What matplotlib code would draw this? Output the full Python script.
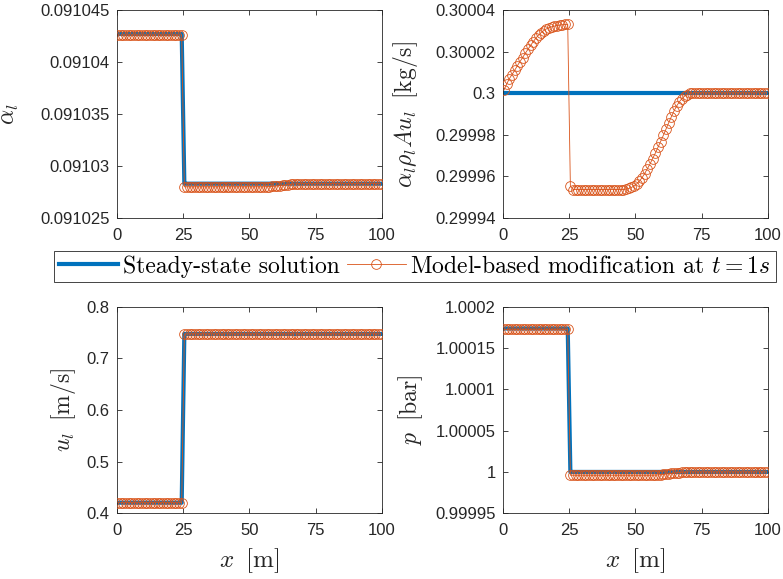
"""Steady-state solution vs model-based modification, four-panel pipe profile."""

import numpy as np
import matplotlib
matplotlib.use('Agg')
import matplotlib.pyplot as plt
from matplotlib.ticker import FuncFormatter

plt.rcParams['mathtext.fontset'] = 'cm'
plt.rcParams['axes.unicode_minus'] = False
plt.rcParams['font.family'] = ['Liberation Sans', 'DejaVu Sans']

BLUE = '#0072BD'
ORANGE = '#D95319'
AXCOL = '#262626'

# cell centres along the pipe [m]
x = np.arange(0.5, 100.0, 1.0)
n_left = 25   # cells before the jump
n_right = 75  # cells after the jump

x_ticks = [0, 25, 50, 75, 100]

# ---- liquid volume fraction alpha_l
alpha_ss_left, alpha_ss_right = 0.0910427, 0.0910283
alpha_model_left = 0.0910426
alpha_model_flat1 = 0.0910280
alpha_model_rise = [0.09102800, 0.09102801, 0.09102802, 0.09102804, 0.09102806,
                    0.09102809, 0.09102812, 0.09102815, 0.09102818, 0.09102821,
                    0.09102824, 0.09102826, 0.09102828, 0.09102829, 0.09102830]
alpha_model_flat2 = 0.0910283
alpha_ticks = [0.091025, 0.09103, 0.091035, 0.09104, 0.091045]

# ---- liquid mass flow alpha_l rho_l A u_l, deviation from 0.3 in 1e-6 kg/s
flow_ss = 0.3
flow_model_left_dev = [1.6, 4.4, 7.0, 9.0, 11.0, 13.2, 15.2, 17.2, 19.2, 21.1,
                       23.0, 24.8, 26.5, 28.0, 29.2, 30.2, 31.0, 31.6, 32.0, 32.3,
                       32.6, 32.8, 33.0, 33.1, 33.2]
flow_model_right_dev = ([-44.7] + [-46.3] * 20 +
                        [-46.1, -45.8, -45.3, -44.6, -43.6, -42.3, -40.6, -38.6, -36.3,
                         -34.0, -31.4, -28.8, -26.0, -23.2, -20.3, -17.3, -14.3, -11.4,
                         -8.6, -6.2, -4.2, -2.6, -1.4, -0.6, -0.1, 0.2, 0.3] +
                        [0.2] * 27)
flow_ticks = [0.29994, 0.29996, 0.29998, 0.3, 0.30002, 0.30004]

# ---- liquid velocity u_l [m/s]
u_ss_left, u_ss_right = 0.4205, 0.7471
u_model_left, u_model_right = 0.4205, 0.7471
u_ticks = [0.4, 0.5, 0.6, 0.7, 0.8]

# ---- pressure p [bar]
p_ss_left, p_ss_right = 1.0001735, 1.0000000
p_model_left = 1.0001725
p_model_flat1 = 0.9999960
p_model_rise = [0.9999960, 0.9999961, 0.9999962, 0.9999964, 0.9999967,
                0.9999970, 0.9999974, 0.9999978, 0.9999982, 0.9999986,
                0.9999990, 0.9999993, 0.9999996, 0.9999998, 0.9999999]
p_model_flat2 = 1.0000000
p_ticks = [0.99995, 1.0, 1.00005, 1.0001, 1.00015, 1.0002]


def two_level(left, right):
    return np.r_[np.full(n_left, left), np.full(n_right, right)]


def jump_then_rise(left, flat1, rise, flat2):
    n_flat1 = 30
    n_flat2 = n_right - n_flat1 - len(rise)
    return np.r_[np.full(n_left, left), np.full(n_flat1, flat1), rise,
                 np.full(n_flat2, flat2)]


alpha_ss = two_level(alpha_ss_left, alpha_ss_right)
alpha_model = jump_then_rise(alpha_model_left, alpha_model_flat1,
                             alpha_model_rise, alpha_model_flat2)
flow_ss_arr = np.full(len(x), flow_ss)
flow_model = flow_ss + 1e-6 * np.r_[flow_model_left_dev, flow_model_right_dev]
u_ss = two_level(u_ss_left, u_ss_right)
u_model = two_level(u_model_left, u_model_right)
p_ss = two_level(p_ss_left, p_ss_right)
p_model = jump_then_rise(p_model_left, p_model_flat1, p_model_rise, p_model_flat2)

fig = plt.figure(figsize=(7.83, 5.79), dpi=100)

# axes boxes in figure fractions
w = 0.339
boxes = {
    'tl': [0.149, 0.6235, w, 0.359],
    'tr': [0.642, 0.6235, w, 0.359],
    'bl': [0.149, 0.1135, w, 0.357],
    'br': [0.642, 0.1135, w, 0.357],
}

panels = [
    ('tl', alpha_ss, alpha_model, alpha_ticks, r'$\alpha_l$', -0.36, False),
    ('tr', flow_ss_arr, flow_model, flow_ticks,
     r'$\alpha_l \rho_l A u_l\;\;[\mathrm{kg/s}]$', -0.312, False),
    ('bl', u_ss, u_model, u_ticks, r'$u_l\;\;[\mathrm{m/s}]$', -0.146, True),
    ('br', p_ss, p_model, p_ticks, r'$p\;\;[\mathrm{bar}]$', -0.294, True),
]

fmt = FuncFormatter(lambda v, pos: '%g' % float('%.6g' % v))

handles = None
for key, ss, model, yticks, ylab, ylab_x, show_xlab in panels:
    ax = fig.add_axes(boxes[key])
    l1, = ax.plot(x, ss, '-', color=BLUE, lw=3, zorder=2)
    l2, = ax.plot(x, model, '-o', color=ORANGE, lw=0.6, ms=7, mew=0.6,
                  mfc='none', zorder=3)
    handles = (l1, l2)
    ax.set_xlim(0, 100)
    ax.set_ylim(yticks[0], yticks[-1])
    ax.set_xticks(x_ticks)
    ax.set_yticks(yticks)
    ax.yaxis.set_major_formatter(fmt)
    ax.tick_params(direction='in', top=True, right=True, length=3.5,
                   width=0.6, colors=AXCOL, labelsize=12)
    ax.tick_params(axis='x', pad=7)
    ax.tick_params(axis='y', pad=5)
    for s in ax.spines.values():
        s.set_color(AXCOL)
        s.set_linewidth(0.6)
    ax.set_ylabel(ylab, fontsize=17, color=AXCOL)
    ax.yaxis.set_label_coords(ylab_x, 0.5)
    if show_xlab:
        ax.set_xlabel(r'$x\;\;[\mathrm{m}]$', fontsize=18, color=AXCOL)
        ax.xaxis.set_label_coords(0.5, -0.16)

leg = fig.legend(handles,
                 ['Steady-state solution', r'Model-based modification at $t = 1s$'],
                 loc='center', bbox_to_anchor=(0.53, 0.5397), ncol=2,
                 prop={'family': 'cmr10', 'size': 17}, fancybox=False,
                 framealpha=1, edgecolor=AXCOL, handlelength=2.5,
                 handletextpad=0.2, columnspacing=0.3, borderpad=0.2,
                 numpoints=1)
leg.get_frame().set_linewidth(0.6)

fig.savefig('out.png', dpi=100, facecolor='white')
